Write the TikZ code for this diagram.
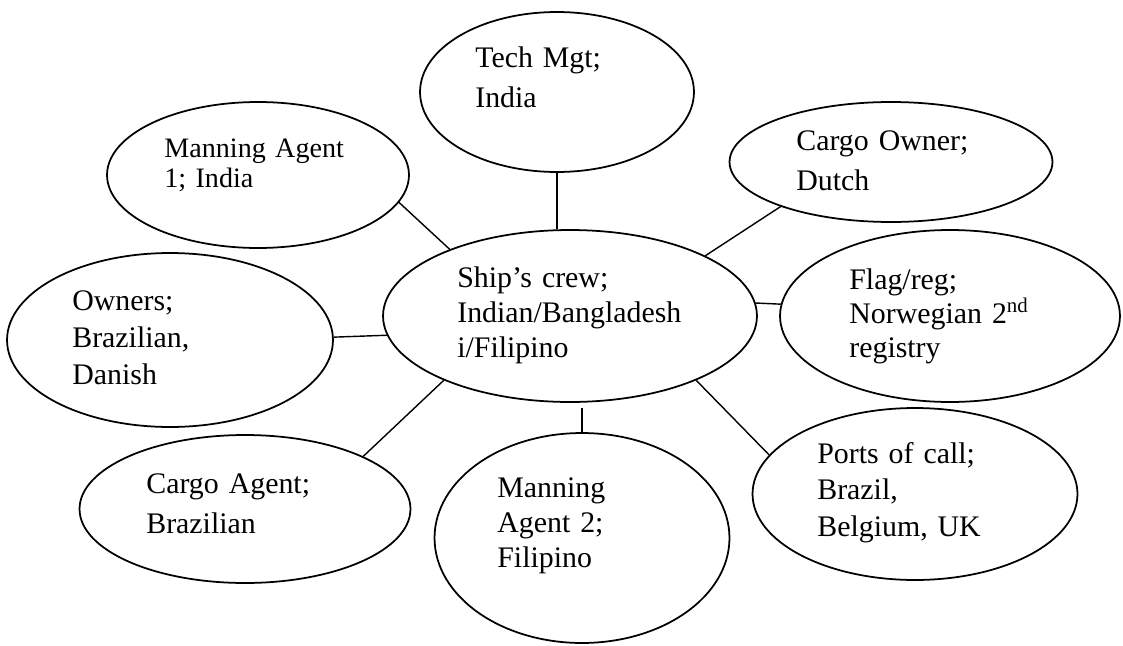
\documentclass[tikz,border=0pt]{standalone}
\usepackage{fontspec}
\setmainfont{Liberation Serif}
\usetikzlibrary{shapes.geometric}

\begin{document}
\begin{tikzpicture}[x=0.02cm, y=-0.02cm,
    bubble/.style={draw, ellipse, inner sep=0pt, line width=1pt},
    link/.style={line width=0.8pt},
    note/.style={anchor=base west, inner sep=0pt, align=left, text width=5cm,
      font=\fontsize{17}{#1}\selectfont},
    note/.default=20.5pt]
  % Fix the frame to the page size
  \useasboundingbox (0,0) rectangle (1123,646);

  % Draw the ellipses around the crew
  \node[bubble, minimum width=5.48cm, minimum height=3.2cm] (tech) at (557,92) {};
  \node[bubble, minimum width=6.04cm, minimum height=2.92cm] (manone) at (258,175) {};
  \node[bubble, minimum width=6.46cm, minimum height=2.4cm] (cargoowner) at (891,162) {};
  \node[bubble, minimum width=7.48cm, minimum height=3.44cm] (crew) at (570,316) {};
  \node[bubble, minimum width=6.52cm, minimum height=3.48cm] (owners) at (170,340) {};
  \node[bubble, minimum width=6.8cm, minimum height=3.44cm] (flag) at (950,316) {};
  \node[bubble, minimum width=6.5cm, minimum height=3.44cm] (ports) at (915,494) {};
  \node[bubble, minimum width=6.62cm, minimum height=2.96cm] (cargoagent) at (245,509) {};
  \node[bubble, minimum width=5.9cm, minimum height=4.2cm] (mantwo) at (582,538) {};

  % Draw the links to the crew
  \draw[link] (tech.south) -- (tech.south |- crew.north);
  \draw[link] (manone.-11) -- (crew.151);
  \draw[link] (cargoowner.202) -- (crew.24);
  \draw[link] (owners.1) -- (crew.186);
  \draw[link] (flag.176) -- (crew.4);
  \draw[link] (cargoagent.24) -- (crew.207);
  \draw[link, shorten >=3pt] (mantwo.north) -- (mantwo.north |- crew.south);
  \draw[link] (ports.165) -- (crew.333);

  % Add the texts
  \node[note=22.8pt] (techtext) at (475,67) {Tech Mgt;\\India};
  \node[note, font=\fontsize{16}{17.6}\selectfont] (manonetext) at (164,157) {Manning Agent\\1; India};
  \node[note=22.8pt] (cargoownertext) at (796,150) {Cargo Owner;\\Dutch};
  \node[note=20.2pt] (crewtext) at (457,287) {Ship's crew;\\Indian/Bangladesh\\i/Filipino};
  \node[note=21.3pt] (ownerstext) at (72,310) {Owners;\\Brazilian,\\Danish};
  \node[note=19.4pt] (flagtext) at (849,289) {Flag/reg;\\Norwegian 2\textsuperscript{nd}\\registry};
  \node[note=20.8pt] (portstext) at (817,463) {Ports of call;\\Brazil,\\Belgium, UK};
  \node[note=22.8pt] (cargoagenttext) at (146,493) {Cargo Agent;\\Brazilian};
  \node[note=20.2pt] (mantwotext) at (497,497) {Manning\\Agent 2;\\Filipino};
\end{tikzpicture}
\end{document}
